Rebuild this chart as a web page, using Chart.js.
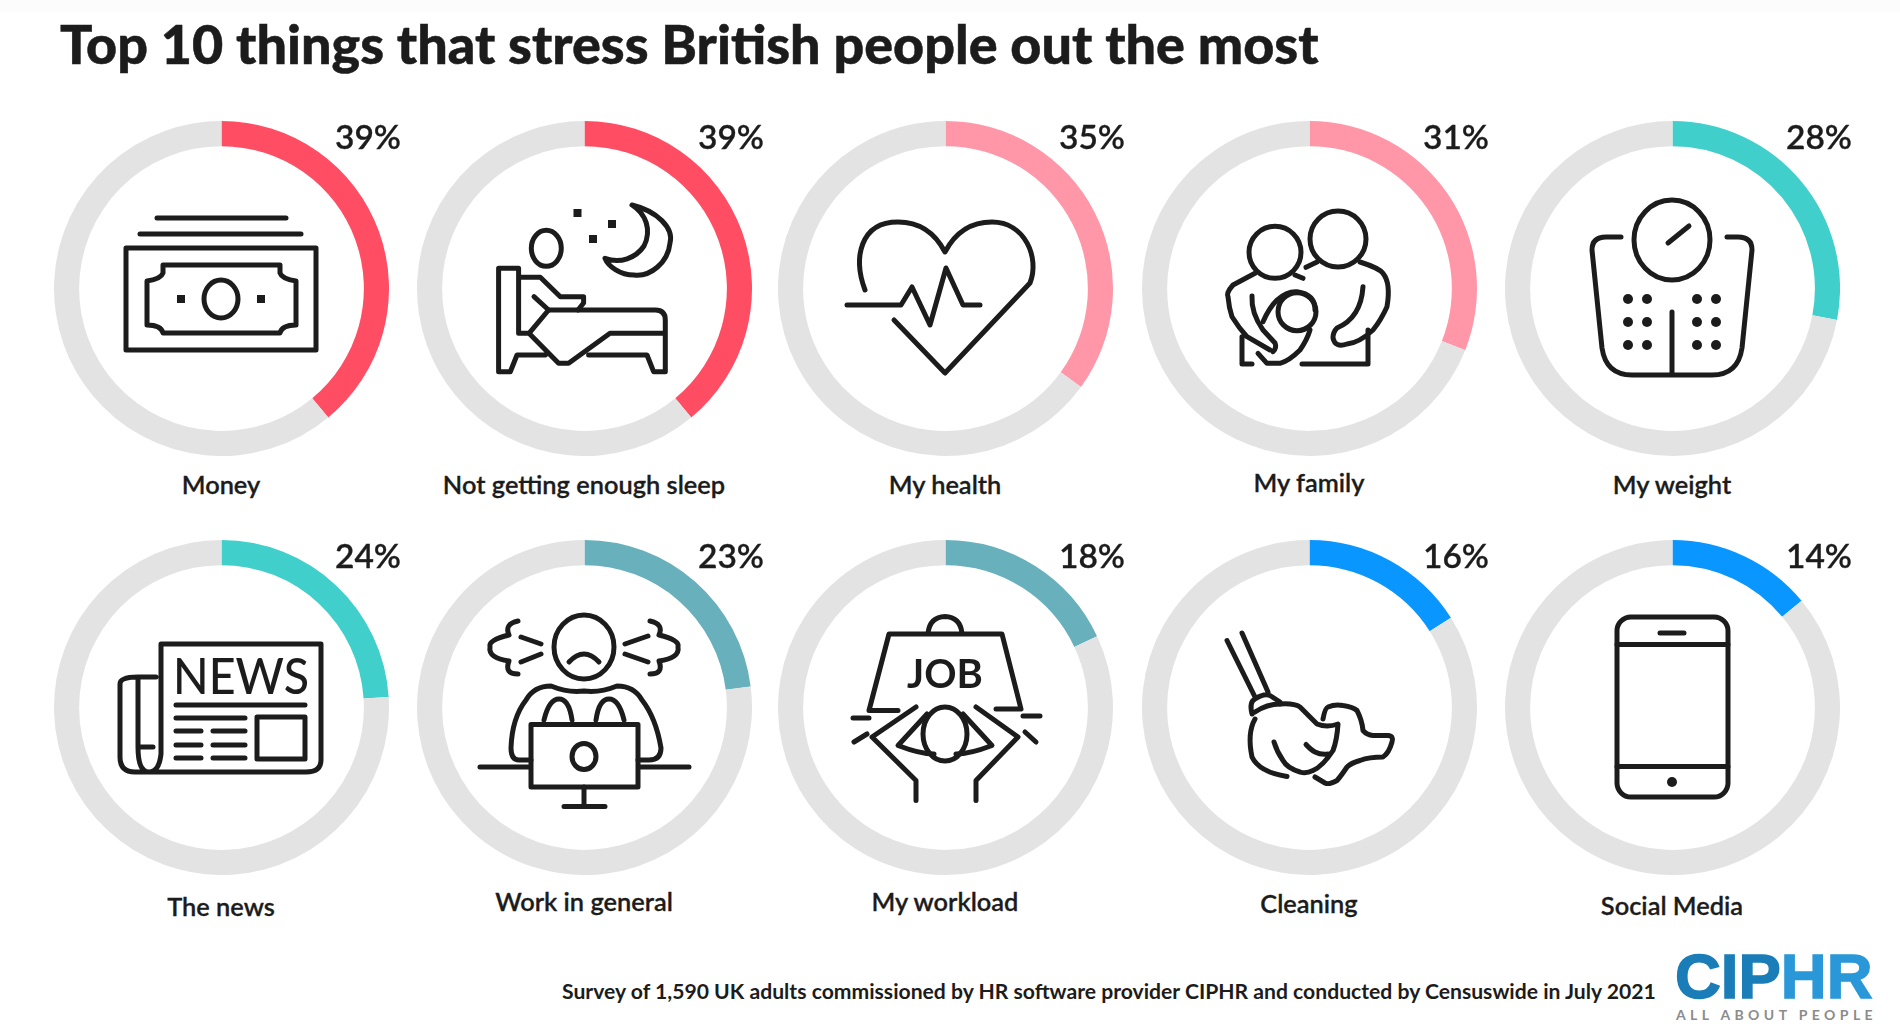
<!DOCTYPE html>
<html lang="en">
<head>
<meta charset="utf-8">
<title>Top 10 things that stress British people out the most</title>
<script src="https://cdn.jsdelivr.net/npm/chart.js@4"></script>
<style>
  html, body { margin: 0; padding: 0; background: #fff; }
  #page { position: relative; width: 1900px; height: 1032px; overflow: hidden; background: #fff; color: #1c1c1c; font-family: Lato, sans-serif; }
  #page > * { position: absolute; }
  .band { left: 0; top: 0; width: 1900px; height: 12px; background: #fcfcfc; }
  h1 { margin: 0; left: 60px; top: 13px; font-size: 53.900px; line-height: 60px; font-weight: 900; white-space: nowrap; -webkit-text-stroke: 0.5px #1c1c1c; }
  .pct { font-size: 33.500px; line-height: 1; font-weight: 600; transform: translate(-50%, -50%); -webkit-text-stroke: 0.3px #1c1c1c; }
  .name { font-size: 25.400px; line-height: 1; font-weight: 600; white-space: nowrap; transform: translate(-50%, -50%); -webkit-text-stroke: 0.3px #1c1c1c; }
  .note { left: 562px; top: 979px; font-size: 21.150px; line-height: 24px; font-weight: 700; white-space: nowrap; }
  .logo { left: 1675px; top: 944px; font: 700 63.500px/64px "Liberation Sans", sans-serif; white-space: nowrap; color: #1a7db8; -webkit-text-stroke: 1.5px #1a7db8; }
  .logo span { color: #2a98d8; -webkit-text-stroke-color: #2a98d8; }
  .tag { left: 1676px; top: 1007px; font-size: 14px; line-height: 16px; font-weight: 700; letter-spacing: 4.400px; color: #8b8b8b; white-space: nowrap; }
  canvas { display: block; }
  svg.icon { overflow: visible; fill: none; stroke: #1c1c1c; stroke-width: 5; stroke-linejoin: round; stroke-linecap: round; }
  svg.icon .solid { fill: #1c1c1c; stroke: none; }
</style>
</head>
<body>
<div id="page">
  <div class="band"></div>
  <h1>Top 10 things that stress British people out the most</h1>
  <div class="note">Survey of 1,590 UK adults commissioned by HR software provider CIPHR and conducted by Censuswide in July 2021</div>
  <div class="logo">CIP<span>HR</span></div>
  <div class="tag">ALL ABOUT PEOPLE</div>
</div>
<script>
// data
const categories = ['Money', 'Not getting enough sleep', 'My health', 'My family', 'My weight',
                    'The news', 'Work in general', 'My workload', 'Cleaning', 'Social Media'];
const percentages = [39, 39, 35, 31, 28, 24, 23, 18, 16, 14];
const ringColors = ['#ff4d63', '#ff4d63', '#ff97a8', '#ff97a8', '#40cfcb',
                    '#40cfcb', '#68b0bc', '#68b0bc', '#0a96ff', '#0a96ff'];
const trackColor = '#e3e3e3';

// layout
const columnX = [221, 584, 945, 1309, 1672];
const rowY = [288, 707.5];
const ringSize = 335;
const labelY = [485, 485, 485, 483, 485, 907, 902, 902, 904, 906];

// icons, one per ring, in pixels from the ring centre
const icons = [
  // money
  `<path d="M-64-70H65M-81-54H80"/><rect x="-95" y="-40" width="190" height="102"/>
   <path d="M-58-23H59V-15Q61-9 75-7V37Q61 37 59 45H-58Q-60 37-74 37V-7Q-60-9-58-15Z"/>
   <ellipse cx="0" cy="11" rx="17" ry="19"/><rect class="solid" x="-44" y="7" width="8" height="8"/><rect class="solid" x="36" y="7" width="8" height="8"/>`,
  // sleep
  `<ellipse cx="-37.700" cy="-39.700" rx="15" ry="18"/>
   <path d="M48-83C73-77 90-60 86-45 84-25 66-11 50-13 36-13 24-22 21-29.700 36-24 52-30 60-42 68-58 62-74 48-83Z"/>
   <rect class="solid" x="-10.500" y="-79" width="8" height="8"/><rect class="solid" x="24" y="-68" width="8" height="8"/><rect class="solid" x="5" y="-53" width="8" height="8"/>
   <path d="M-65.400 45.300V-19.700H-85.400V83.700H-73.700L-67 67H-38.700M-65.400 45.300H-55L-25.400 75.300H-15.400L26 45.300H81.300M-55 45.300L-35.400 22H71.300Q81.300 22 81.300 32V83.700H69.600L63 67H4.600"/>
   <path d="M-63.700-10.700H-43.700L-23.700 8.700H-.4V15L-6 22M-50 8.700L-35.400 22"/>`,
  // health
  `<path d="M-80 2C-92-30-85-66-47-66-25-66-10-55 0-36 10-55 25-66 47-66 80-66 95-30 85-5L0 85-51 32"/>
   <path d="M-98 17H-44L-33-1-15 37 1-20 18 17H35"/>`,
  // family
  `<circle cx="29" cy="-49" r="28"/><circle cx="-34" cy="-35.700" r="26"/><circle cx="-12" cy="23.700" r="19"/>
   <path d="M-3-20.700L8-26M51-26Q70-20 74-14.700 82-5 78 18.700 72 32 64 42 50 55 38 56 26 60 24 50 24 44 28 40 52 30 54-1.300M-7 76H59V42"/>
   <path d="M-6-9.700L-14-13M-54-14.700L-76-3Q-83 5-81 8.700-80 20-77 28.700-70 40-62 48.700L-39 62M-57 8Q-58 25-46 42L-34 55Q-32 60-36 63.700M-67 48.700V76H-57"/>
   <path d="M-46 33.700Q-40 20-32 12-22 3-12 3.700 6 6 6 22M1 42Q-2 52-9 62-20 73-29 75.300H-42L-51 65.300"/>`,
  // weight
  `<ellipse cx="0" cy="-48" rx="38" ry="40"/><path d="M-4-45L17-62M-51-51H-66Q-80-51-80-38L-70 60Q-66 87-40 87H40Q66 87 70 60L80-38Q80-51 66-51H55M0 24V87"/>
   ${[11, 34, 57].map(y => [-44, -25, 25, 44].map(x => `<circle class="solid" cx="${x}" cy="${y}" r="5"/>`).join('')).join('')}`,
  // news
  `<path d="M-60 46V-64H100V52Q100 64 85 64H-86Q-101 64-101 49V-24Q-101-31-83-31H-65M-83-31V39H-68M-60 46Q-62 64-72 64Q-83 64-83 39"/>
   <text x="20" y="-14" text-anchor="middle" textLength="136" lengthAdjust="spacingAndGlyphs" style="font:500 51px Lato,sans-serif;fill:#1c1c1c;stroke:none">NEWS</text>
   <path d="M-45-3H84M-45 10H24M-45 23H-20M-8 23H24M-45 37H-20M-8 37H24M-45 50H-20M-8 50H24"/><rect x="36" y="9" width="48" height="42"/>`,
  // work
  `<ellipse cx="0" cy="-61" rx="30" ry="32"/><path d="M-15-46Q0-62 15-46M-63-71L-43-64M-63-46L-43-54M41-64L64-72M41-54L64-46"/>
   <path d="M-66-87Q-80-84-75-73-96-68-94-61-96-50-75-47-80-34-66-34M66-87Q80-84 75-73 96-68 94-61 96-50 75-47 80-34 66-34"/>
   <path d="M-53 52H-65Q-73 52-73 40-72 10-58-8-50-22-33-22-16-15 0-17 16-15 33-22 50-22 58-8 72 10 77 40 77 52 65 52H54M-40 12Q-35-9-25-9-15-9-12 12M40 12Q35-9 25-9 15-9 12 12"/>
   <rect x="-53" y="16.500" width="107" height="62.500"/><ellipse cx="0" cy="48.500" rx="12" ry="13"/>
   <path d="M-104 59H-55M56 59H105M0 79V98.500M-20 98.500H21"/>`,
  // workload
  `<path d="M-47 2.500H-76L-56-74H57L76 1H51M-17-75Q-15-91 0-91.500 15-91 17-75"/>
   <text x="0" y="-20" text-anchor="middle" style="font:700 40px Lato,sans-serif;fill:#1c1c1c;stroke:none">JOB</text>
   <ellipse cx="0" cy="26" rx="22" ry="27"/>
   <path d="M-29-1L-73 29-29 72.500V92.500M31-1L73 29 31 72.500V92.500M-18 6L-47 37.500Q-25 46-11 46M18 6L47 37.500Q25 46 11 46M-92 10H-76M78 8H95M-91 34L-78 26M80 24L91 34"/>`,
  // cleaning
  `<path d="M-82-67.500L-54-11M-67-75L-41-16M-57 6Q-60-6-54-9-45-15-39-12.500L-29-6M-54 4Q-42-4-29-4"/>
   <path d="M-54 11Q-62 25-57 49-50 64-22 68.500M-29-4Q-15-5-9-1L8 16Q18 20 29 16 28 32 24 42.500 14 58 4 62.500-3 66-9 64-22 60-26 52.500-32 44-35 34M-3 36.500Q2 42 6 44 12 47 19 46"/>
   <path d="M14 11Q16 0 19-1 26-4 34-2.500 44-1 48 2.500 53 12 54 22.500 58 27 64 27.500H79Q85 28 83 34 80 45 74 49 60 49 51 52.500 42 55 38 59 32 68 28 72.500 20 77 16 75L6 69"/>`,
  // phone
  `<rect x="-55" y="-91" width="111" height="180" rx="14"/><path d="M-55-63.500H56M-55 58.500H56M-12-75H12"/><circle class="solid" cx="0" cy="74" r="5"/>`
];

const page = document.getElementById('page');

function addText(cls, text, x, y) {
  const el = document.createElement('div');
  el.className = cls;
  el.textContent = text;
  el.style.left = x + 'px';
  el.style.top = y + 'px';
  page.appendChild(el);
}

categories.forEach((name, i) => {
  const cx = columnX[i % 5];
  const cy = rowY[Math.floor(i / 5)];

  const canvas = document.createElement('canvas');
  canvas.style.left = (cx - ringSize / 2) + 'px';
  canvas.style.top = (cy - ringSize / 2) + 'px';
  canvas.style.position = 'absolute';
  canvas.width = ringSize;
  canvas.height = ringSize;
  page.appendChild(canvas);

  new Chart(canvas, {
    type: 'doughnut',
    data: {
      labels: [name, 'Other'],
      datasets: [{
        data: [percentages[i], 100 - percentages[i]],
        backgroundColor: [ringColors[i], trackColor],
        borderWidth: 0
      }]
    },
    options: {
      responsive: false,
      animation: false,
      cutout: '85%',
      plugins: { legend: { display: false }, tooltip: { enabled: false } }
    }
  });

  // icon in the hole of the ring
  const svg = document.createElementNS('http://www.w3.org/2000/svg', 'svg');
  svg.setAttribute('class', 'icon');
  svg.setAttribute('width', 284);
  svg.setAttribute('height', 284);
  svg.setAttribute('viewBox', '-142 -142 284 284');
  svg.style.left = (cx - 142) + 'px';
  svg.style.top = (cy - 142) + 'px';
  svg.innerHTML = icons[i];
  page.appendChild(svg);

  addText('pct', percentages[i] + '%', cx + 147, cy - 151.5);
  addText('name', name, cx, labelY[i]);
});
</script>
</body>
</html>
